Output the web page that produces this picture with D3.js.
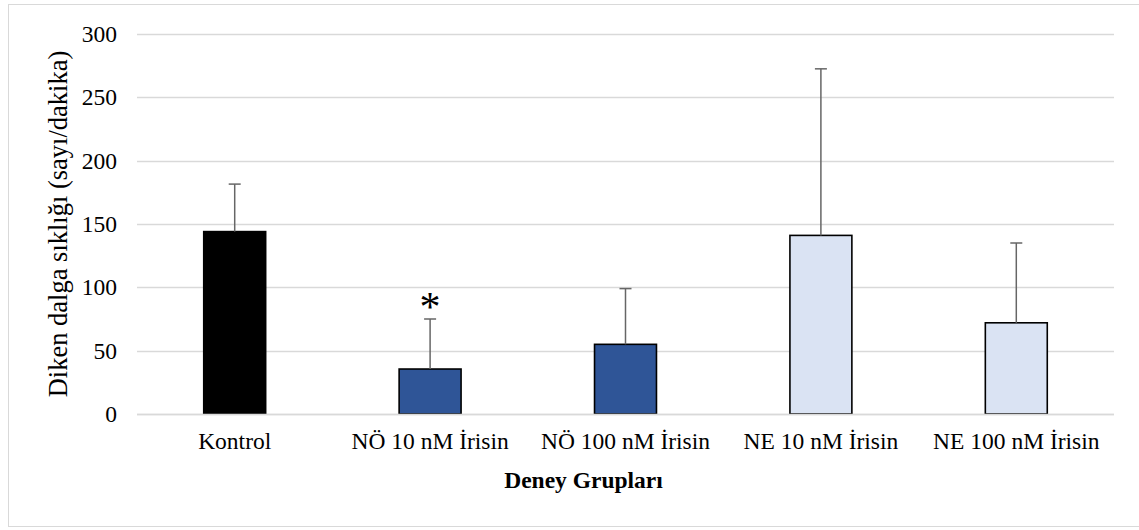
<!DOCTYPE html>
<html>
<head>
<meta charset="utf-8">
<script src="https://cdn.jsdelivr.net/npm/d3@7"></script>
<style>
  html, body { margin: 0; padding: 0; background: #fff; }
  svg { display: block; }
  text { font-family: "Liberation Serif", "Times New Roman", serif; fill: #000; }
</style>
</head>
<body>
<svg id="chart" width="1139" height="530"></svg>
<script>
// Spike frequency per experimental group (count/minute), mean and SD
const categories = ["Kontrol", "NÖ 10 nM İrisin", "NÖ 100 nM İrisin", "NE 10 nM İrisin", "NE 100 nM İrisin"];
const means = [144, 35.5, 55, 141, 72];
const errors = [37.5, 39.5, 44, 131.5, 63];
const fills = ["#000000", "#2F5597", "#2F5597", "#DAE3F3", "#DAE3F3"];
const significant = [false, true, false, false, false];
const yTicks = [0, 50, 100, 150, 200, 250, 300];

const svg = d3.select("#chart");
const plotLeft = 137, plotRight = 1114, plotTop = 34, plotBottom = 414;

// chart frame
svg.append("rect")
  .attr("x", 8.5).attr("y", 4.5)
  .attr("width", 1140).attr("height", 522)
  .attr("fill", "none").attr("stroke", "#d9d9d9").attr("stroke-width", 1);

const x = d3.scaleBand().domain(categories).range([plotLeft, plotRight]).padding(0);
const y = d3.scaleLinear().domain([0, 300]).range([plotBottom, plotTop]);
const barW = x.bandwidth() * 0.317;

// gridlines
svg.append("g").selectAll("line").data(yTicks).join("line")
  .attr("x1", plotLeft).attr("x2", plotRight)
  .attr("y1", d => Math.round(y(d)) + 0.5).attr("y2", d => Math.round(y(d)) + 0.5)
  .attr("stroke", "#d9d9d9").attr("stroke-width", 1.3);

// y axis tick labels
const yAxis = d3.axisLeft(y).tickValues(yTicks).tickSize(0).tickPadding(0);
const gy = svg.append("g").attr("transform", `translate(117,0)`).call(yAxis);
gy.select(".domain").remove();
gy.selectAll("text").attr("font-size", 23.5).attr("font-family", "Liberation Serif").attr("fill", "#000");

// bars
svg.append("g").selectAll("rect").data(categories).join("rect")
  .attr("x", d => x(d) + (x.bandwidth() - barW) / 2)
  .attr("y", (d, i) => y(means[i]))
  .attr("width", barW)
  .attr("height", (d, i) => y(0) - y(means[i]))
  .attr("fill", (d, i) => fills[i])
  .attr("stroke", "#000").attr("stroke-width", 1.6);

// baseline over bar bottoms
svg.append("line")
  .attr("x1", plotLeft).attr("x2", plotRight)
  .attr("y1", Math.round(y(0)) + 0.5).attr("y2", Math.round(y(0)) + 0.5)
  .attr("stroke", "#d9d9d9").attr("stroke-width", 1.3);

// error bars (upper only)
const eg = svg.append("g").attr("stroke", "#666666").attr("stroke-width", 1.5);
categories.forEach((c, i) => {
  const cx = x(c) + x.bandwidth() / 2;
  eg.append("line").attr("x1", cx).attr("x2", cx)
    .attr("y1", y(means[i])).attr("y2", y(means[i] + errors[i]));
  eg.append("line").attr("x1", cx - 6).attr("x2", cx + 6)
    .attr("y1", y(means[i] + errors[i])).attr("y2", y(means[i] + errors[i]));
});

// significance marker
svg.append("g").selectAll("text").data(categories.filter((c, i) => significant[i])).join("text")
  .attr("x", d => x(d) + x.bandwidth() / 2)
  .attr("y", d => { const i = categories.indexOf(d); return y(means[i] + errors[i]) + 2; })
  .attr("text-anchor", "middle")
  .attr("font-size", 42)
  .text("*");

// x axis category labels
const xAxis = d3.axisBottom(x).tickSize(0).tickPadding(0);
const gx = svg.append("g").attr("transform", `translate(0,449)`).call(xAxis);
gx.select(".domain").remove();
gx.selectAll("text").attr("font-size", 23.5).attr("font-family", "Liberation Serif").attr("fill", "#000")
  .attr("y", 0).attr("dy", 0);

// axis titles
svg.append("text")
  .attr("x", (plotLeft + plotRight) / 2 - 42).attr("y", 488)
  .attr("text-anchor", "middle")
  .attr("font-size", 23.5).attr("font-weight", "bold")
  .text("Deney Grupları");

svg.append("text")
  .attr("transform", `translate(67,${(plotTop + plotBottom) / 2}) rotate(-90)`)
  .attr("text-anchor", "middle")
  .attr("font-size", 26.5)
  .text("Diken dalga sıklığı (sayı/dakika)");
</script>
</body>
</html>
